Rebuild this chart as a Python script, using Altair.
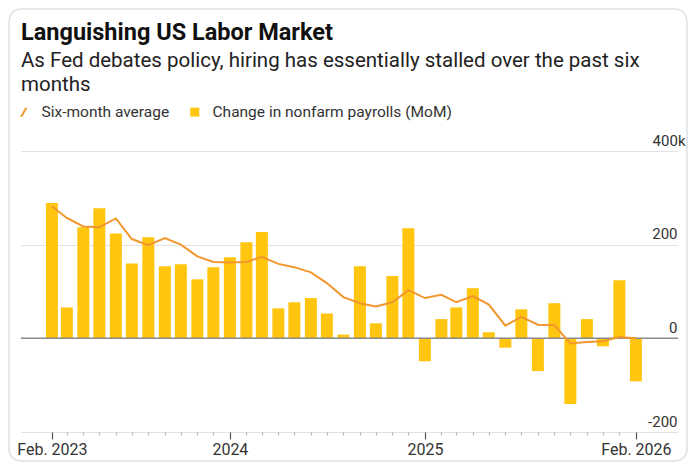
import altair as alt
import pandas as pd

months = [
    "2023-02", "2023-03", "2023-04", "2023-05", "2023-06", "2023-07", "2023-08",
    "2023-09", "2023-10", "2023-11", "2023-12", "2024-01", "2024-02", "2024-03",
    "2024-04", "2024-05", "2024-06", "2024-07", "2024-08", "2024-09", "2024-10",
    "2024-11", "2024-12", "2025-01", "2025-02", "2025-03", "2025-04", "2025-05",
    "2025-06", "2025-07", "2025-08", "2025-09", "2025-10", "2025-11", "2025-12",
    "2026-01", "2026-02",
]
payrolls = [
    289, 66, 237, 278, 224, 160, 216, 154, 158, 126, 152, 173, 205, 227,
    64, 77, 86, 53, 8, 154, 32, 133, 235, -49, 41, 66, 107, 13,
    -20, 62, -70, 75, -140, 41, -17, 124, -92,
]
six_month_avg = [
    282, 257, 239, 237, 256, 212, 199, 214, 200, 175, 163, 162, 163, 174,
    159, 152, 141, 118, 88, 75, 68, 77, 103, 86, 93, 77, 90, 72,
    27, 46, 29, 28, -11, -8, -6, 3, 0,
]
y_ticks = [-200, 0, 200, 400]
series_names = ["Six-month average", "Change in nonfarm payrolls (MoM)"]

YELLOW = "#FFC50F"
ORANGE = "#F2962E"
FONT = "Roboto"

df = pd.DataFrame({
    "month": [m + "-01T00:00:00" for m in months],
    "payrolls": payrolls,
    "avg": six_month_avg,
})

tick_values = [alt.DateTime(year=int(m[:4]), month=int(m[5:7]), date=1) for m in months]

major_test = (
    "(month(datum.value)==0 && (year(datum.value)==2024 || year(datum.value)==2025))"
    " || (month(datum.value)==1 && (year(datum.value)==2023 || year(datum.value)==2026))"
)
label_expr = (
    "month(datum.value)==1 && (year(datum.value)==2023 || year(datum.value)==2026)"
    " ? 'Feb. ' + year(datum.value)"
    " : (month(datum.value)==0 && (year(datum.value)==2024 || year(datum.value)==2025)"
    " ? '' + year(datum.value) : '')"
)

x_enc = alt.X(
    "month:T",
    scale=alt.Scale(domain=[alt.DateTime(year=2022, month=12, date=5),
                            alt.DateTime(year=2026, month=4, date=21)],
                    nice=False, padding=0),
    axis=alt.Axis(
        values=tick_values,
        tickCount=200,
        labelExpr=label_expr,
        title=None,
        grid=False,
        domain=False,
        ticks=True,
        tickSize={"condition": {"test": major_test, "value": 7}, "value": 3},
        tickColor={"condition": {"test": major_test, "value": "#555555"}, "value": "#b5b5b5"},
        tickWidth=1.2,
        labelPadding=2,
        labelFont=FONT,
        labelFontSize=16,
        labelColor="#333333",
        labelOverlap=False,
        labelFlush=False,
        labelBound=False,
    ),
)

y_scale = alt.Scale(domain=[-200, 400], nice=False)
y_axis = alt.Axis(
    orient="right",
    values=y_ticks,
    title=None,
    grid=True,
    gridColor="#e1e1e1",
    gridWidth=1,
    domain=False,
    ticks=False,
    tickSize=0,
    labelAlign="right",
    labelBaseline="bottom",
    labelOffset=-3,
    labelPadding={"condition": {"test": "datum.value == 400", "value": 7}, "value": -1},
    labelExpr="datum.value == 400 ? '400k' : '' + datum.value",
    labelFont=FONT,
    labelFontSize=15,
    labelColor="#333333",
)

frame = alt.Chart(pd.DataFrame({"a": [0]})).mark_rect(
    fillOpacity=0, stroke="#dce1e7", strokeWidth=1.5, cornerRadius=12
).encode(
    x=alt.value(-12), x2=alt.value(666), y=alt.value(-142), y2=alt.value(310)
)

bars = alt.Chart(df).mark_bar(size=12, color=YELLOW).encode(
    x=x_enc,
    y=alt.Y("payrolls:Q", scale=y_scale, axis=y_axis),
)

zero = alt.Chart(pd.DataFrame({"a": [0]})).mark_rule(color="#8a8a8a", strokeWidth=1.5).encode(
    y=alt.datum(0, scale=y_scale)
)

line = alt.Chart(df).mark_line(color=ORANGE, strokeWidth=2).encode(
    x="month:T",
    y="avg:Q",
)

slash = "M-0.8,1L0.3,-1L0.8,-1L-0.3,1Z"
legend_props = dict(
    orient="none",
    legendX=-5,
    legendY=-47,
    direction="horizontal",
    title=None,
    labelFont=FONT,
    labelFontSize=15.5,
    labelColor="#333333",
    labelLimit=400,
    symbolSize=81,
    symbolOpacity=1,
    columnPadding=17,
    labelOffset=10,
)
legend_layer = alt.Chart(pd.DataFrame({"series": series_names})).mark_point(
    filled=True, opacity=1
).encode(
    color=alt.Color("series:N",
                    scale=alt.Scale(domain=series_names, range=[ORANGE, YELLOW]),
                    legend=alt.Legend(**legend_props)),
    shape=alt.Shape("series:N",
                    scale=alt.Scale(domain=series_names, range=[slash, "square"]),
                    legend=alt.Legend(**legend_props)),
).transform_filter("false")

chart = alt.layer(frame, bars, zero, line, legend_layer).properties(
    width=657,
    height=281,
    autosize=alt.AutoSizeParams(type="none"),
    padding={"left": 13, "top": 143, "right": 10, "bottom": 30},
    background="white",
    title=alt.Title(
        text="Languishing US Labor Market",
        subtitle=["As Fed debates policy, hiring has essentially stalled over the past six",
                  "months"],
        anchor="start",
        frame="group",
        dx=0,
        offset=-87,
        font=FONT,
        fontSize=23.5,
        fontWeight="bold",
        color="#111111",
        subtitleFont=FONT,
        subtitleFontSize=20.5,
        subtitleColor="#222222",
        subtitlePadding=6,
        subtitleLineHeight=24,
    ),
).configure_view(stroke=None)

chart.save("out.html", embed_options={"renderer": "svg", "actions": False})
